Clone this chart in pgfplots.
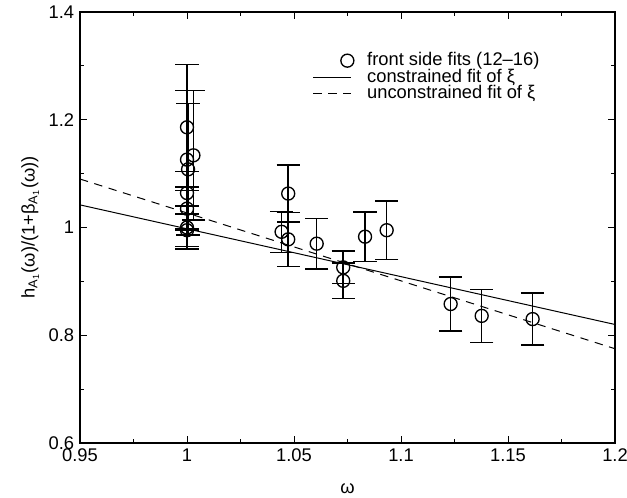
\documentclass[border=0pt]{standalone}
\usepackage{pgfplots}
\pgfplotsset{compat=1.18}
\usepackage{fontspec}
\setmainfont{Liberation Sans}
\pgfplotsset{
  linelegend/.style={legend image code/.code={\draw[##1] (0cm,0cm) -- (0.8cm,0cm);}},
  marklegend/.style={legend image code/.code={\path[draw=none,fill=none] (0cm,0cm) -- (0.8cm,0cm); \draw[##1] plot coordinates {(0.72cm,0cm)};}},
}
\begin{document}
\begin{tikzpicture}
\path[use as bounding box] (-48pt,-32.4pt) rectangle (328.2pt,265.8pt);
\begin{axis}[
  scale only axis,
  width=321pt, height=258.6pt,
  at={(0,0)}, anchor=south west,
  xmin=0.95, xmax=1.2, ymin=0.6, ymax=1.4,
  xtick={0.95,1,...,1.2},
  ytick={0.6,0.8,...,1.4},
  minor x tick num=1, minor y tick num=1,
  tick align=inside,
  major tick length=4pt, minor tick length=2.5pt,
  tick style={black, line width=0.6pt},
  axis line style={line width=0.8pt},
  /pgf/number format/assume math mode=true,
  tick label style={font=\fontsize{11}{13}\selectfont},
  label style={font=\fontsize{11}{13}\selectfont},
  xlabel={ω},
  ylabel={h\textsubscript{A\textsubscript{1}}(ω)/(1+β\textsubscript{A\textsubscript{1}}(ω))},
  xlabel style={at={(0.5,-0.08)}, anchor=north},
  ylabel style={at={(-0.093,0.5)}, anchor=center},
  legend style={at={(0.425,0.915)}, anchor=north west, draw=none, fill=none,
    font=\fontsize{11}{13}\selectfont, row sep=0pt,
    nodes={inner ysep=0.5pt, text height=7.5pt, text depth=1.5pt},
    /tikz/every odd column/.append style={column sep=6pt}},
  legend cell align=left,
]
\addplot[only marks, mark=o, mark size=3.9pt, mark options={line width=0.8pt},
  marklegend,
  error bars/.cd, y dir=both, y explicit,
  error mark=-,
  error mark options={rotate=90, mark size=7pt, line width=0.9pt},
  error bar style={line width=0.9pt}]
  table[x=x, y=y, y error=e] {
x y e
1.000 1.186 0.117
1.003 1.134 0.120
1.000 1.126 0.128
1.0005 1.108 0.122
1.000 1.064 0.040
1.000 1.035 0.040
1.000 1.000 0.040
1.000 0.995 0.030
1.0442 0.992 0.038
1.0473 1.063 0.053
1.0473 0.978 0.050
1.0606 0.970 0.047
1.073 0.926 0.030
1.073 0.901 0.033
1.0832 0.983 0.046
1.0933 0.995 0.054
1.1232 0.858 0.050
1.1377 0.836 0.049
1.1615 0.830 0.048
};
\addlegendentry{front side fits (12–16)}
\addplot[line width=0.6pt, black, linelegend]
  coordinates {(0.95,1.042) (1.2,0.820)};
\addlegendentry{constrained fit of ξ}
\addplot[line width=0.6pt, black, dash pattern=on 5pt off 4pt, linelegend]
  coordinates {(0.95,1.090) (1.2,0.775)};
\addlegendentry{unconstrained fit of ξ}
\end{axis}
\end{tikzpicture}
\end{document}
